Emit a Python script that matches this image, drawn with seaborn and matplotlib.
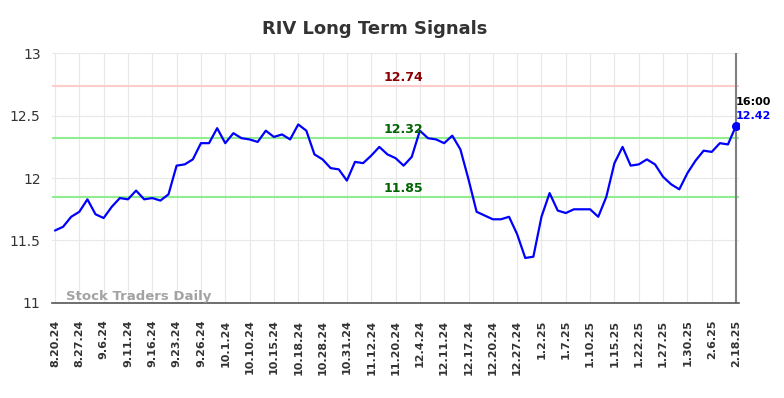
import matplotlib
matplotlib.use('Agg')
from matplotlib import pyplot as plt
import pandas as pd
import seaborn as sns

tick_labels = ['8.20.24', '8.27.24', '9.6.24', '9.11.24', '9.16.24', '9.23.24', '9.26.24',
               '10.1.24', '10.10.24', '10.15.24', '10.18.24', '10.28.24', '10.31.24',
               '11.12.24', '11.20.24', '12.4.24', '12.11.24', '12.17.24', '12.20.24',
               '12.27.24', '1.2.25', '1.7.25', '1.10.25', '1.15.25', '1.22.25', '1.27.25',
               '1.30.25', '2.6.25', '2.18.25']

prices = [11.58, 11.61, 11.69, 11.73, 11.83, 11.71, 11.68, 11.77, 11.84, 11.83,
          11.90, 11.83, 11.84, 11.82, 11.87, 12.10, 12.11, 12.15, 12.28, 12.28,
          12.40, 12.28, 12.36, 12.32, 12.31, 12.29, 12.38, 12.33, 12.35, 12.31,
          12.43, 12.38, 12.19, 12.15, 12.08, 12.07, 11.98, 12.13, 12.12, 12.18,
          12.25, 12.19, 12.16, 12.10, 12.17, 12.38, 12.32, 12.31, 12.28, 12.34,
          12.23, 11.99, 11.73, 11.70, 11.67, 11.67, 11.69, 11.55, 11.36, 11.37,
          11.69, 11.88, 11.74, 11.72, 11.75, 11.75, 11.75, 11.69, 11.85, 12.12,
          12.25, 12.10, 12.11, 12.15, 12.11, 12.01, 11.95, 11.91, 12.04, 12.14,
          12.22, 12.21, 12.28, 12.27, 12.42]

resistance = 12.74
support_high = 12.32
support_low = 11.85
last_time = '16:00'

df = pd.DataFrame({'idx': range(len(prices)), 'price': prices})

sns.set_style('whitegrid', {'grid.color': '#e8e8e8'})
fig, ax = plt.subplots(figsize=(7.84, 3.98), dpi=100)
fig.subplots_adjust(left=0.066, right=0.943, bottom=0.239, top=0.866)

sns.lineplot(data=df, x='idx', y='price', color='blue', linewidth=1.6, ax=ax)

ax.axhline(resistance, color='#ffcccc', linewidth=1.5, zorder=1)
ax.axhline(support_high, color='#90ee90', linewidth=1.5, zorder=1)
ax.axhline(support_low, color='#90ee90', linewidth=1.5, zorder=1)

mid = 43
ax.text(mid, resistance + 0.015, f'{resistance:.2f}', color='#8b0000', fontsize=9,
        fontweight='bold', ha='center', va='bottom')
ax.text(mid, support_high + 0.015, f'{support_high:.2f}', color='#006400', fontsize=9,
        fontweight='bold', ha='center', va='bottom')
ax.text(mid, support_low + 0.015, f'{support_low:.2f}', color='#006400', fontsize=9,
        fontweight='bold', ha='center', va='bottom')

last = len(prices) - 1
ax.axvline(last, color='gray', linewidth=1.5)
ax.scatter([last], [prices[-1]], color='blue', s=30, zorder=5)
ax.text(last, prices[-1] + 0.19, last_time, color='black', fontsize=8,
        fontweight='bold', ha='left', va='center')
ax.text(last, prices[-1] + 0.08, f'{prices[-1]:.2f}', color='blue', fontsize=8,
        fontweight='bold', ha='left', va='center')

ax.text(1.3, 11.0, 'Stock Traders Daily', color='#999999', fontsize=9.5,
        fontweight='bold', ha='left', va='bottom', alpha=0.9)

ax.set_xlim(-0.4, last + 0.4)
ax.set_ylim(11, 13)
ax.set_yticks([11, 11.5, 12, 12.5, 13])
ax.set_yticklabels(['11', '11.5', '12', '12.5', '13'], fontsize=10, color='#333333')
ax.set_xticks(range(0, len(prices), 3))
ax.set_xticklabels(tick_labels, rotation=90, fontsize=8, fontweight='bold', color='#333333')
ax.tick_params(axis='y', length=0, pad=8)
ax.tick_params(axis='x', length=0, pad=12)
ax.set_xlabel('')
ax.set_ylabel('')

for side in ['top', 'left', 'right']:
    ax.spines[side].set_visible(False)
ax.spines['bottom'].set_color('#555555')
ax.spines['bottom'].set_linewidth(1.2)

ax.set_title('RIV Long Term Signals', fontsize=13, fontweight='bold', color='#333333',
             pad=14, x=0.47)

plt.savefig('out.png', dpi=100)
